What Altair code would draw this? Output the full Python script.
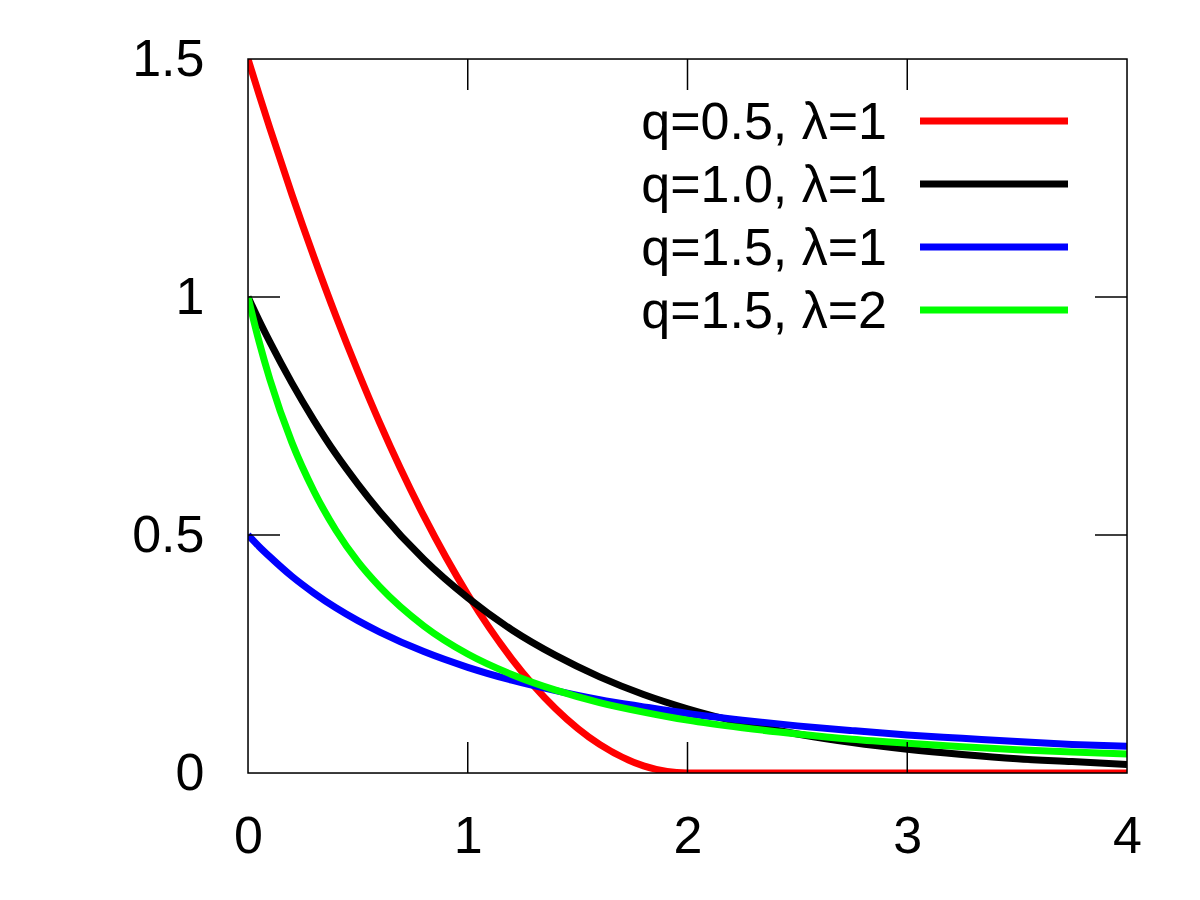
import altair as alt
import pandas as pd

# ---- data ----
x_vals = [0, 0.05, 0.1, 0.2, 0.3, 0.4, 0.5, 0.6, 0.8, 1.0, 1.2, 1.4, 1.6, 1.8, 2.0,
          2.25, 2.5, 2.75, 3.0, 3.25, 3.5, 3.75, 4.0]
red_vals = [1.5, 1.426, 1.354, 1.215, 1.084, 0.96, 0.844, 0.735, 0.54, 0.375, 0.24,
            0.135, 0.06, 0.015, 0.0, 0.0, 0.0, 0.0, 0.0, 0.0, 0.0, 0.0, 0.0]
black_vals = [1.0, 0.951, 0.905, 0.819, 0.741, 0.670, 0.607, 0.549, 0.449, 0.368, 0.301,
              0.247, 0.202, 0.165, 0.135, 0.105, 0.082, 0.064, 0.050, 0.039, 0.030, 0.024, 0.018]
blue_vals = [0.5, 0.476, 0.454, 0.413, 0.378, 0.347, 0.32, 0.296, 0.255, 0.222, 0.195,
             0.173, 0.154, 0.139, 0.125, 0.111, 0.099, 0.089, 0.08, 0.073, 0.066, 0.060, 0.056]
green_vals = [1.0, 0.907, 0.826, 0.694, 0.592, 0.510, 0.444, 0.391, 0.309, 0.25, 0.207,
              0.174, 0.148, 0.128, 0.111, 0.095, 0.082, 0.071, 0.0625, 0.055, 0.049, 0.044, 0.04]

labels = ["q=0.5, λ=1", "q=1.0, λ=1", "q=1.5, λ=1", "q=1.5, λ=2"]
colors = ["#ff0000", "#000000", "#0000ff", "#00ff00"]
series = [red_vals, black_vals, blue_vals, green_vals]

x_ticks = [0, 1, 2, 3, 4]
y_ticks = [0, 0.5, 1, 1.5]
x_inner_ticks = [1, 2, 3]
y_inner_ticks = [0.5, 1]

rows = []
for i, (lab, vals) in enumerate(zip(labels, series)):
    for xv, yv in zip(x_vals, vals):
        rows.append({"x": xv, "y": yv, "series": lab, "order": i})
df = pd.DataFrame(rows)
leg_df = pd.DataFrame({"series": labels})
xt_df = pd.DataFrame({"v": x_inner_ticks})
yt_df = pd.DataFrame({"v": y_inner_ticks})
frame_df = pd.DataFrame({"k": [0]})

W, H = 879, 714
FONT = "Liberation Sans"
FS = 52
TICK = 31
LW = 7

xscale = alt.Scale(domain=[0, 4], nice=False, zero=False)
yscale = alt.Scale(domain=[0, 1.5], nice=False, zero=False)
cscale = alt.Scale(domain=labels, range=colors)

lines = alt.Chart(df).mark_line(strokeWidth=LW, clip=True, interpolate="monotone").encode(
    x=alt.X("x:Q", scale=xscale, title=None,
            axis=alt.Axis(values=x_ticks, format="d", ticks=False, domain=False, grid=False,
                          labelFont=FONT, labelFontSize=FS, labelColor="black",
                          labelPadding=63, labelBaseline="middle",
                          labelFlush=False, labelOverlap=False)),
    y=alt.Y("y:Q", scale=yscale, title=None,
            axis=alt.Axis(values=y_ticks, format="~g", ticks=False, domain=False, grid=False,
                          labelFont=FONT, labelFontSize=FS, labelColor="black",
                          labelPadding=44, labelBaseline="middle",
                          labelFlush=False, labelOverlap=False)),
    color=alt.Color("series:N", scale=cscale, legend=None),
    order=alt.Order("order:Q"),
)

tick_style = dict(color="black", strokeWidth=1.5)
bottom_ticks = alt.Chart(xt_df).mark_rule(**tick_style).encode(
    x=alt.X("v:Q", scale=xscale), y=alt.value(H), y2=alt.value(H - TICK))
top_ticks = alt.Chart(xt_df).mark_rule(**tick_style).encode(
    x=alt.X("v:Q", scale=xscale), y=alt.value(0), y2=alt.value(TICK))
left_ticks = alt.Chart(yt_df).mark_rule(**tick_style).encode(
    y=alt.Y("v:Q", scale=yscale), x=alt.value(0), x2=alt.value(TICK + 1))
right_ticks = alt.Chart(yt_df).mark_rule(**tick_style).encode(
    y=alt.Y("v:Q", scale=yscale), x=alt.value(W), x2=alt.value(W - TICK - 1))
frame = alt.Chart(frame_df).mark_rect(
    fillOpacity=0, stroke="black", strokeWidth=1.5
).encode(x=alt.value(0), x2=alt.value(W), y=alt.value(0), y2=alt.value(H))

main = alt.layer(lines, bottom_ticks, top_ticks, left_ticks, right_ticks, frame)

leg_y = alt.Y("series:N", sort=labels,
              scale=alt.Scale(type="point", domain=labels, range=[62, 251], padding=0),
              axis=None)
leg_text = alt.Chart(leg_df).mark_text(
    font=FONT, fontSize=FS, align="right", baseline="middle", color="black", dy=2
).encode(x=alt.value(639), y=leg_y, text="series:N")
leg_lines = alt.Chart(leg_df).mark_rule(strokeWidth=LW).encode(
    x=alt.value(672), x2=alt.value(820), y=leg_y,
    color=alt.Color("series:N", scale=cscale, legend=None))
legend = alt.layer(leg_text, leg_lines)

chart = alt.layer(main, legend).resolve_scale(y="independent").properties(
    width=W, height=H,
    autosize=alt.AutoSizeParams(type="none"),
    padding={"left": 240, "top": 51, "right": 65, "bottom": 119},
).configure_view(stroke=None).configure(background="white")

chart.save("out.html", embed_options={"renderer": "svg", "actions": False})
